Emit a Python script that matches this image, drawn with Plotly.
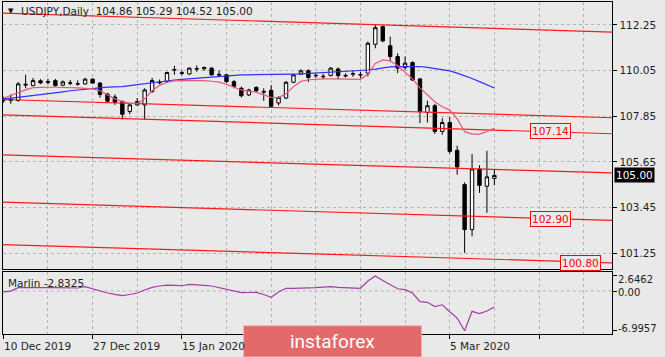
import pandas as pd
import plotly.graph_objects as go

# ---------------- data ----------------
dates = [d.strftime("%Y-%m-%d") for d in pd.bdate_range("2019-12-10", "2020-03-13")
         if d.strftime("%Y-%m-%d") not in ("2019-12-25", "2020-01-01")]

opens = [108.60, 108.68, 108.61, 109.35, 109.33, 109.56, 109.48, 109.57, 109.35, 109.44,
         109.40, 109.41, 109.64, 109.45, 108.92, 108.78, 108.56, 108.08, 108.40, 108.40,
         109.04, 109.50, 109.52, 110.08, 109.95, 109.89, 110.12, 110.14, 110.17, 109.87,
         109.85, 109.52, 109.20, 108.88, 109.24, 109.05, 109.10, 108.49, 108.73, 109.49,
         109.88, 110.04, 109.80, 109.78, 109.81, 110.13, 109.82, 109.88, 109.84, 109.93,
         111.32, 112.17, 111.25, 110.73, 110.20, 110.44, 109.65, 108.03, 108.36, 107.12,
         107.55, 106.21, 104.56, 102.39, 105.31, 104.48, 104.86]
highs = [108.80, 108.90, 109.50, 109.85, 109.70, 109.64, 109.66, 109.65, 109.58, 109.60,
         109.58, 109.70, 109.68, 109.50, 108.98, 108.90, 108.62, 108.45, 108.73, 109.20,
         109.70, 109.62, 110.00, 110.28, 110.05, 110.20, 110.30, 110.25, 110.22, 110.06,
         109.90, 109.60, 109.28, 109.18, 109.30, 109.20, 109.35, 108.82, 109.55, 109.90,
         110.12, 110.12, 109.95, 109.90, 110.22, 110.20, 109.92, 110.05, 110.00, 111.45,
         112.25, 112.22, 111.69, 110.89, 110.73, 110.50, 109.70, 108.60, 108.45, 107.76,
         107.81, 106.43, 104.67, 106.03, 105.49, 106.19, 105.29]
lows = [108.50, 108.45, 108.55, 109.20, 109.30, 109.40, 109.38, 109.28, 109.30, 109.35,
        109.32, 109.38, 109.42, 108.75, 108.50, 108.40, 107.70, 107.95, 108.35, 107.68,
        108.98, 109.40, 109.45, 109.85, 109.82, 109.85, 110.00, 110.05, 109.80, 109.78,
        109.45, 109.20, 108.76, 108.82, 108.98, 108.60, 108.30, 108.37, 108.68, 109.45,
        109.85, 109.50, 109.70, 109.65, 109.78, 109.65, 109.72, 109.75, 109.68, 109.77,
        111.13, 111.42, 110.49, 109.93, 110.09, 109.55, 107.52, 107.55, 107.00, 106.96,
        106.05, 105.04, 101.27, 102.07, 104.16, 103.20, 104.52]
closes = [108.70, 108.62, 109.41, 109.39, 109.57, 109.46, 109.52, 109.33, 109.51, 109.46,
          109.42, 109.64, 109.45, 108.90, 108.58, 108.52, 107.95, 108.40, 108.56, 109.12,
          109.57, 109.47, 109.96, 110.10, 109.92, 110.17, 110.15, 110.20, 109.85, 109.84,
          109.52, 109.29, 108.84, 109.12, 109.08, 109.02, 108.33, 108.76, 109.49, 109.85,
          110.04, 109.72, 109.82, 109.76, 110.17, 109.81, 109.80, 109.90, 109.86, 111.37,
          112.12, 111.48, 110.73, 110.17, 110.41, 109.60, 108.08, 108.36, 107.12, 107.55,
          106.16, 105.41, 102.39, 105.31, 104.52, 104.93, 105.00]

ma_fast = [108.72, 108.86, 109.00, 109.12, 109.23, 109.25, 109.25, 109.25, 109.25, 109.24,
           109.22, 109.20, 109.17, 109.08, 108.88, 108.69, 108.56, 108.47, 108.47, 108.69,
           109.08, 109.34, 109.49, 109.56, 109.57, 109.58, 109.58, 109.57, 109.54, 109.50,
           109.39, 109.27, 109.12, 109.06, 109.01, 108.88, 108.76, 108.75, 108.93, 109.28,
           109.53, 109.61, 109.64, 109.65, 109.65, 109.65, 109.65, 109.64, 109.63, 109.89,
           110.40, 110.57, 110.52, 110.30, 109.99, 109.65, 109.22, 108.88, 108.55, 108.31,
           108.16, 107.73, 107.11, 106.99, 106.99, 107.12, 107.28]
ma_slow = [108.68, 108.72, 108.76, 108.80, 108.85, 108.89, 108.94, 108.98, 109.03, 109.08,
           109.12, 109.17, 109.21, 109.25, 109.26, 109.27, 109.28, 109.33, 109.38, 109.43,
           109.48, 109.52, 109.56, 109.60, 109.63, 109.66, 109.70, 109.73, 109.76, 109.78,
           109.81, 109.83, 109.85, 109.85, 109.85, 109.85, 109.85, 109.86, 109.87, 109.88,
           109.89, 109.91, 109.94, 109.97, 109.99, 110.00, 110.02, 110.03, 110.04, 110.08,
           110.12, 110.18, 110.23, 110.24, 110.25, 110.25, 110.25, 110.21, 110.16, 110.10,
           110.04, 109.93, 109.81, 109.67, 109.52, 109.37, 109.21]
marlin = [-0.14, -0.02, 0.58, 0.62, 0.65, 0.63, 0.62, 0.58, 0.53, 0.49,
          0.53, 0.76, 0.39, 0.00, -0.35, -0.60, -0.81, -0.62, -0.35, 0.18,
          0.63, 0.88, 1.04, 0.99, 0.93, 1.18, 1.15, 1.00, 0.88, 0.60,
          0.30, 0.00, -0.30, -0.26, -0.25, -0.62, -1.11, -0.18, 0.48, 0.48,
          0.48, 0.51, 0.60, 0.67, 0.76, 0.63, 0.55, 0.48, 0.48, 1.76,
          2.6462, 1.87, 1.15, 0.39, 0.23, -0.35, -1.89, -1.99, -2.73, -2.43,
          -3.65, -4.78, -6.9957, -3.58, -3.97, -3.53, -2.8325]

# channel lines: price at left edge and at right edge of the chart
channel_start = [112.82, 108.66, 107.92, 105.99, 103.71, 101.67]
channel_end = [111.91, 107.78, 107.01, 105.12, 102.83, 100.79]

level_labels = ["107.14", "102.90", "100.80"]
level_values = [107.14, 102.90, 100.80]

price_ticks = [101.25, 103.45, 105.65, 107.85, 110.05, 112.25]
marlin_ticks = [2.6462, 0.0, -6.9957]
marlin_tick_text = ["2.6462", "0.00", "-6.9957"]

date_label_dates = ["2019-12-10", "2019-12-27", "2020-01-15", "2020-03-05"]
date_label_text = ["10 Dec 2019", "27 Dec 2019", "15 Jan 2020", "5 Mar 2020"]

title_text = "USDJPY,Daily\u00a0 104.86 105.29 104.52 105.00"
last_price = 105.00
marlin_last = -2.8325

# ---------------- figure ----------------
W, H = 665, 357
BG = "#E9E9E9"
FONT = "DejaVu Sans"
idx = list(range(len(dates)))
XR = [-0.08, 81.85]
x_dom = [2.7 / W, 612.3 / W]
y_main = [1 - 269 / H, 1 - 2 / H]
y_ind = [1 - 334 / H, 1 - 272 / H]

fig = go.Figure()

for s, e in zip(channel_start, channel_end):
    fig.add_trace(go.Scatter(x=[XR[0], XR[1]], y=[s, e], mode="lines",
                             line=dict(color="#FF1A1A", width=1.2),
                             hoverinfo="skip", xaxis="x", yaxis="y"))

fig.add_trace(go.Scatter(x=idx, y=ma_slow, mode="lines",
                         line=dict(color="#3030FF", width=1.2), xaxis="x", yaxis="y"))
fig.add_trace(go.Scatter(x=idx, y=ma_fast, mode="lines",
                         line=dict(color="#EE5577", width=1.2), xaxis="x", yaxis="y"))

fig.add_trace(go.Candlestick(
    x=idx, open=opens, high=highs, low=lows, close=closes,
    increasing=dict(line=dict(color="black", width=1), fillcolor="white"),
    decreasing=dict(line=dict(color="black", width=1), fillcolor="black"),
    whiskerwidth=0, xaxis="x", yaxis="y"))

fig.add_trace(go.Scatter(x=idx, y=marlin, mode="lines",
                         line=dict(color="#A63CA6", width=1.2), xaxis="x2", yaxis="y2"))

grid = dict(showgrid=True, gridcolor="#B4B4B4", gridwidth=1, griddash="3px,3px")
axis_line = dict(showline=True, linecolor="black", linewidth=1, mirror=True, zeroline=False)
tickfont = dict(family=FONT, size=10.5, color="#1E1E1E")

fig.update_layout(
    width=W, height=H, margin=dict(l=0, r=0, t=0, b=0),
    paper_bgcolor=BG, plot_bgcolor=BG, showlegend=False, hovermode=False,
    boxgap=0.35,
    xaxis=dict(domain=x_dom, range=XR, anchor="y", tick0=0, dtick=6,
               showticklabels=False, ticks="", rangeslider=dict(visible=False),
               **grid, **axis_line),
    yaxis=dict(domain=y_main, range=[100.491, 113.358], anchor="x", side="right",
               tickvals=price_ticks, ticktext=[f"{v:.2f}" for v in price_ticks],
               ticks="outside", ticklen=4, tickcolor="black", tickfont=tickfont,
               **grid, **axis_line),
    xaxis2=dict(domain=x_dom, range=XR, anchor="y2", tick0=0, dtick=12,
                showticklabels=False, ticks="outside", ticklen=4, tickcolor="black",
                minor=dict(dtick=6, tick0=0, showgrid=True, gridcolor="#B4B4B4",
                           griddash="3px,3px"),
                **grid, **axis_line),
    yaxis2=dict(domain=y_ind, range=[-7.58, 3.35], anchor="x2", side="right",
                tickvals=marlin_ticks, showticklabels=False,
                ticks="outside", ticklen=4, tickcolor="black", showgrid=False,
                **axis_line),
)

# dashed zero line in indicator panel
fig.add_shape(type="line", xref="x2", yref="y2", x0=XR[0], x1=XR[1], y0=0, y1=0,
              line=dict(color="#B4B4B4", width=1, dash="3px,3px"), layer="below")

# indicator axis labels
for v, t, sh in zip(marlin_ticks, marlin_tick_text, [-3.5, -1, 2]):
    fig.add_annotation(text=t, xref="paper", x=617 / W, xanchor="left",
                       yref="y2", y=v, yshift=sh, yanchor="middle", showarrow=False,
                       borderpad=0, font=dict(family=FONT, size=10, color="#1E1E1E"))

# level labels
for t, v, xi in zip(level_labels, level_values, [73.6, 73.6, 77.6]):
    fig.add_annotation(text=t, x=xi, y=v, xref="x", yref="y", showarrow=False,
                       xanchor="center", yanchor="middle",
                       font=dict(family=FONT, size=10.5, color="#FF0000"),
                       bordercolor="#FF0000", borderwidth=1, borderpad=1, bgcolor=BG)

# current price box
fig.add_annotation(text=f"{last_price:.2f}", xref="paper", x=613.5 / W, xanchor="left",
                   yref="y", y=last_price, yanchor="middle", showarrow=False,
                   bgcolor="black", font=dict(family=FONT, size=10.5, color="white"),
                   borderpad=1)

# title
fig.add_annotation(text="\u25BC", xref="paper", x=11 / W, xanchor="center",
                   yref="paper", y=1 - 11 / H, yanchor="middle",
                   showarrow=False, font=dict(family=FONT, size=7, color="black"))
fig.add_annotation(text=title_text, xref="paper", x=19 / W, xanchor="left",
                   yref="paper", y=1 - 11.5 / H, yanchor="middle", showarrow=False,
                   font=dict(family=FONT, size=10.5, color="#1E1E1E"))
fig.add_annotation(text=f"Marlin {marlin_last}", xref="paper", x=6 / W, xanchor="left",
                   yref="paper", y=1 - 282.5 / H, yanchor="middle", showarrow=False,
                   font=dict(family=FONT, size=10.5, color="#1E1E1E"))

# date labels
for d, t in zip(date_label_dates, date_label_text):
    fig.add_annotation(text=t, xref="x2", x=dates.index(d), xshift=-1.5, xanchor="left",
                       yref="paper", y=1 - 346 / H, yanchor="middle", showarrow=False,
                       font=tickfont)

# watermark
fig.add_shape(type="rect", xref="paper", yref="paper", x0=243.6 / W, x1=421.6 / W,
              y0=0, y1=1 - 325.7 / H, fillcolor="#E36A6A",
              line=dict(color="#F2B2B2", width=1), layer="above")
fig.add_annotation(text="instaforex", xref="paper", x=332.6 / W, xanchor="center",
                   yref="paper", y=1 - 341 / H, yanchor="middle", showarrow=False,
                   font=dict(family="Roboto", size=19, color="white"))

fig.write_html("out.html", config={"displayModeBar": False},
               post_script="document.body.style.margin='0';document.body.style.overflow='hidden';")
